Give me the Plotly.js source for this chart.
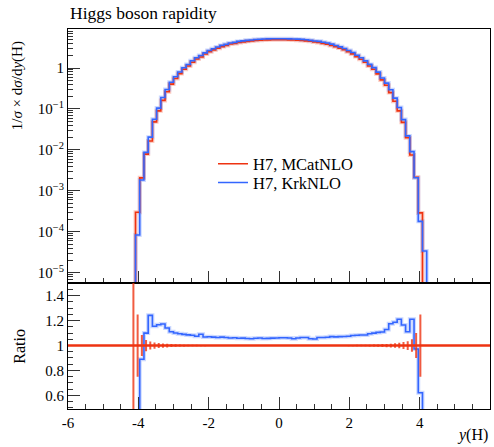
<!DOCTYPE html>
<html><head><meta charset="utf-8">
<script src="https://cdn.plot.ly/plotly-3.0.1.min.js"></script>
<style>html,body{margin:0;padding:0;background:#fff}#chart{width:494px;height:447px}</style>
</head><body><div id="chart"></div>
<script>
// ---- data ----
const binLow = -4.2;
const binWidth = 0.12;
const nBins = 70;

const mcatnlo = [3e-6, 3.0e-4, 2.08e-3, 7.9e-3, 0.0165, 0.0485, 0.090, 0.162, 0.263, 0.405,
 0.555, 0.73, 0.935, 1.124, 1.386, 1.656, 1.862, 2.20, 2.514, 2.77,
 3.06, 3.34, 3.55, 3.85, 3.98, 4.22, 4.34, 4.48, 4.60, 4.70,
 4.77, 4.83, 4.87, 4.89, 4.90, 4.90, 4.89, 4.87, 4.83, 4.78,
 4.70, 4.61, 4.49, 4.35, 4.21, 4.00, 3.83, 3.57, 3.33, 3.07,
 2.79, 2.50, 2.21, 1.90, 1.64, 1.38, 1.12, 0.93, 0.72, 0.513,
 0.38, 0.251, 0.155, 0.090, 0.0472, 0.0198, 7.5e-3, 2.16e-3, 2.9e-4, 0];

const krknlo = [5e-7, 8.4e-5, 1.85e-3, 8.69e-3, 0.0205, 0.056, 0.105, 0.190, 0.300, 0.450,
 0.611, 0.799, 1.019, 1.220, 1.500, 1.780, 2.030, 2.350, 2.690, 2.958,
 3.259, 3.567, 3.781, 4.081, 4.227, 4.465, 4.600, 4.735, 4.853, 4.973,
 5.056, 5.105, 5.152, 5.183, 5.194, 5.204, 5.193, 5.162, 5.096, 5.067,
 5.001, 4.905, 4.737, 4.581, 4.484, 4.260, 4.083, 3.827, 3.563, 3.291,
 2.991, 2.688, 2.387, 2.056, 1.779, 1.497, 1.226, 1.023, 0.796, 0.569,
 0.429, 0.295, 0.184, 0.109, 0.0550, 0.0220, 9.08e-3, 2.10e-3, 1.80e-4, 3.4e-5];

const mcatnloRelErr = [2.0, 0.25, 0.085, 0.045, 0.032, 0.025, 0.02, 0.017, 0.015, 0.012,
 0.010, 0.008, 0.007, 0.0065, 0.006, 0.0055, 0.005, 0.005, 0.0045, 0.0045,
 0.004, 0.004, 0.004, 0.004, 0.004, 0.0035, 0.0035, 0.0035, 0.0035, 0.0035,
 0.0035, 0.0035, 0.0035, 0.0035, 0.0035, 0.0035, 0.0035, 0.0035, 0.0035, 0.0035,
 0.0035, 0.0035, 0.0035, 0.0035, 0.0035, 0.004, 0.004, 0.004, 0.004, 0.0045,
 0.0045, 0.005, 0.005, 0.0055, 0.006, 0.0065, 0.007, 0.008, 0.009, 0.012,
 0.013, 0.015, 0.018, 0.022, 0.028, 0.035, 0.05, 0.10, 0.25, 0];

const seriesNames = ['H7, MCatNLO', 'H7, KrkNLO'];
const xTickVals = [-6, -4, -2, 0, 2, 4, 6];
const xTickText = ['-6', '-4', '-2', '0', '2', '4', '6'];
const yTickVals = [1e-5, 1e-4, 1e-3, 1e-2, 1e-1, 1];
const yTickText = ['10<sup>−5</sup>', '10<sup>−4</sup>', '10<sup>−3</sup>', '10<sup>−2</sup>', '10<sup>−1</sup>', '1'];
const rTickVals = [0.6, 0.8, 1, 1.2, 1.4];
const rTickText = ['0.6', '0.8', '1', '1.2', '1.4'];

// ---- build ----
const RED = '#ee3311', BLUE = '#3366ff';
const FONT = '"Liberation Serif", "Times New Roman", serif';
const edges = []; for (let i = 0; i <= nBins; i++) edges.push(+(binLow + i * binWidth).toFixed(4));
const centers = []; for (let i = 0; i < nBins; i++) centers.push((edges[i] + edges[i + 1]) / 2);

function step(vals, floor) {
  const x = [], y = [];
  if (floor) { x.push(edges[0]); y.push(floor); }
  for (let i = 0; i < vals.length; i++) { x.push(edges[i]); y.push(floor && vals[i] <= 0 ? floor : vals[i]); }
  x.push(edges[vals.length]); y.push(y[y.length - 1]);
  if (floor) { x.push(edges[vals.length]); y.push(floor); }
  return {x, y};
}
const ratio = krknlo.map((b, i) => mcatnlo[i] > 0 ? b / mcatnlo[i] : 0);

const sR = step(mcatnlo, 1e-12), sB = step(krknlo, 1e-12), sRat = step(ratio);
const minorLog = [];
for (let k = -6; k <= 0; k++) for (let m = 2; m <= 9; m++) minorLog.push(m * Math.pow(10, k));

const traces = [
  {x: sR.x, y: sR.y, xaxis: 'x', yaxis: 'y', mode: 'lines', line: {shape: 'hv', color: 'rgba(238,51,17,0.25)', width: 4}, showlegend: false, hoverinfo: 'skip'},
  {x: sB.x, y: sB.y, xaxis: 'x', yaxis: 'y', mode: 'lines', line: {shape: 'hv', color: 'rgba(51,102,255,0.25)', width: 4}, showlegend: false, hoverinfo: 'skip'},
  {x: sR.x, y: sR.y, xaxis: 'x', yaxis: 'y', mode: 'lines', name: seriesNames[0], legend: 'legend', line: {shape: 'hv', color: RED, width: 1.6}},
  {x: sB.x, y: sB.y, xaxis: 'x', yaxis: 'y', mode: 'lines', name: seriesNames[1], legend: 'legend2', line: {shape: 'hv', color: BLUE, width: 1.6}},
  {x: sRat.x, y: sRat.y, xaxis: 'x2', yaxis: 'y2', mode: 'lines', line: {shape: 'hv', color: 'rgba(51,102,255,0.25)', width: 4}, showlegend: false, hoverinfo: 'skip'},
  {x: sRat.x, y: sRat.y, xaxis: 'x2', yaxis: 'y2', mode: 'lines', line: {shape: 'hv', color: BLUE, width: 1.6}, showlegend: false},
  {x: centers.filter((c, i) => mcatnlo[i] > 0), y: mcatnlo.filter(v => v > 0).map(v => v / v),
   xaxis: 'x2', yaxis: 'y2', mode: 'markers', marker: {size: 1, color: 'rgba(0,0,0,0)'}, showlegend: false,
   error_y: {type: 'data', array: mcatnloRelErr.filter((e, i) => mcatnlo[i] > 0), color: 'rgba(238,51,17,0.8)', thickness: 2, width: 0}}
];

const axBase = {showline: true, mirror: true, linecolor: '#000', linewidth: 1, zeroline: false, showgrid: false,
  ticks: 'inside', ticklen: 12, tickcolor: '#333', tickwidth: 1,
  tickfont: {family: FONT, size: 15, color: '#000'}};

const legBase = {x: 0.3436, xanchor: 'left', yanchor: 'middle', bgcolor: 'rgba(0,0,0,0)', font: {family: FONT, size: 16.5, color: '#000'}};

const layout = {
  width: 494, height: 447,
  margin: {l: 68, r: 4, t: 29, b: 38},
  paper_bgcolor: '#fff', plot_bgcolor: '#fff',
  font: {family: FONT, size: 15, color: '#000'},
  showlegend: true,
  legend: Object.assign({}, legBase, {y: 0.6447}),
  legend2: Object.assign({}, legBase, {y: 0.5955}),
  xaxis: Object.assign({}, axBase, {domain: [0, 1], anchor: 'y', range: [-6, 6], tickvals: xTickVals, showticklabels: false,
    minor: {dtick: 0.5, tick0: 0, ticks: 'inside', ticklen: 5, tickcolor: '#333'}}),
  yaxis: Object.assign({}, axBase, {domain: [0.3324, 1], anchor: 'x', type: 'log', range: [-5.242, 0.953],
    tickvals: yTickVals, ticktext: yTickText,
    minor: {tickvals: minorLog, ticks: 'inside', ticklen: 5, tickcolor: '#333'}}),
  xaxis2: Object.assign({}, axBase, {domain: [0, 1], anchor: 'y2', range: [-6, 6], tickvals: xTickVals, ticktext: xTickText,
    minor: {dtick: 0.5, tick0: 0, ticks: 'inside', ticklen: 5, tickcolor: '#333'}}),
  yaxis2: Object.assign({}, axBase, {domain: [0, 0.3324], anchor: 'x2', range: [0.49, 1.505],
    tickvals: rTickVals, ticktext: rTickText,
    minor: {dtick: 0.05, tick0: 0, ticks: 'inside', ticklen: 5, tickcolor: '#333'}}),
  shapes: [{type: 'line', xref: 'x2 domain', yref: 'y2', x0: 0, x1: 1, y0: 1, y1: 1, line: {color: RED, width: 2.5}, layer: 'above'}],
  annotations: [
    {text: 'Higgs boson rapidity', xref: 'paper', yref: 'paper', x: 0, y: 1.042, xanchor: 'left', yanchor: 'middle', showarrow: false, font: {family: FONT, size: 17.5}},
    {text: '1/<i>σ</i> × d<i>σ</i>/d<i>y</i>(H)', xref: 'paper', yref: 'paper', x: -0.1209, y: 0.852, xanchor: 'center', yanchor: 'middle', textangle: -90, showarrow: false, font: {family: FONT, size: 15}},
    {text: 'Ratio', xref: 'paper', yref: 'paper', x: -0.1137, y: 0.164, xanchor: 'center', yanchor: 'middle', textangle: -90, showarrow: false, font: {family: FONT, size: 16}},
    {text: '<i>y</i>(H)', xref: 'paper', yref: 'paper', x: 1, y: -0.0684, xanchor: 'right', yanchor: 'middle', showarrow: false, font: {family: FONT, size: 16}}
  ]
};

Plotly.newPlot('chart', traces, layout, {displayModeBar: false, staticPlot: true});
</script>
</body></html>
